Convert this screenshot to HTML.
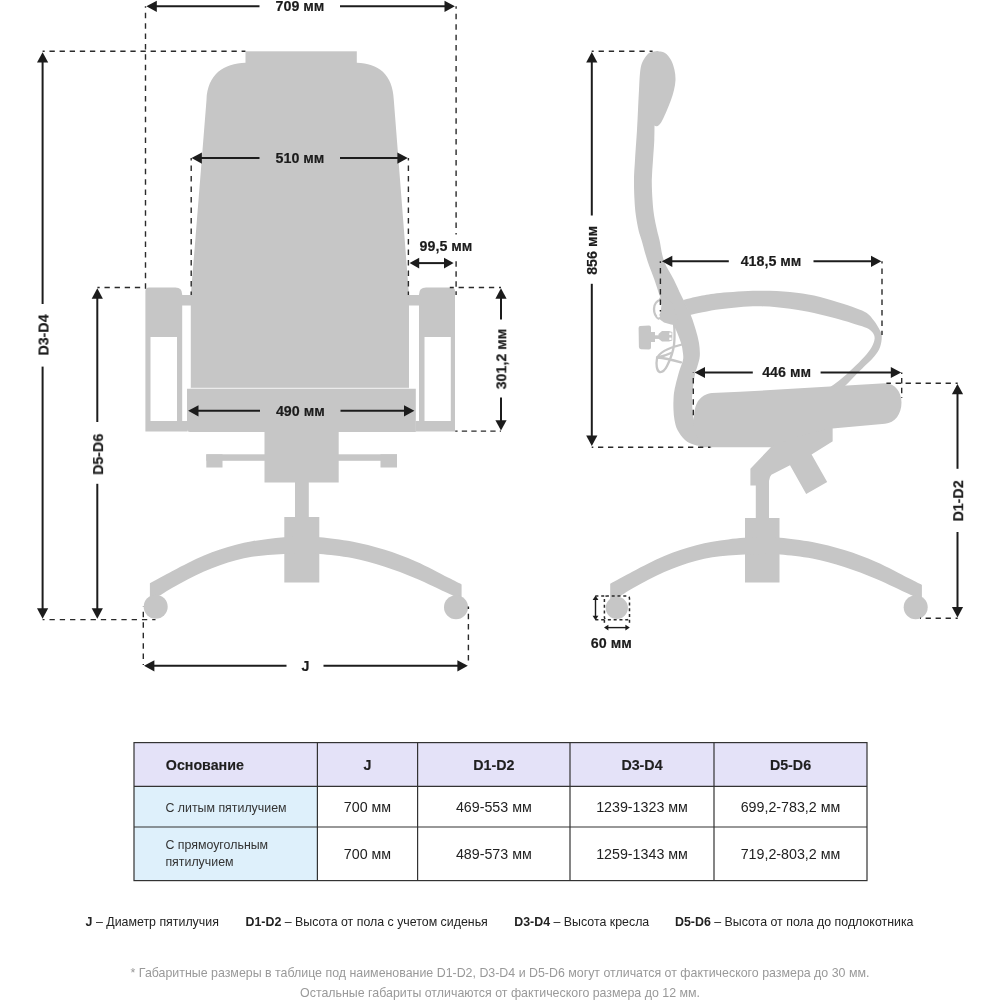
<!DOCTYPE html>
<html lang="ru">
<head>
<meta charset="utf-8">
<title>Габаритные размеры кресла</title>
<style>
html,body{margin:0;padding:0;background:#fff;}
body{width:1000px;height:1000px;overflow:hidden;font-family:"Liberation Sans",sans-serif;}
svg{display:block;}
text{font-family:"Liberation Sans",sans-serif;fill:#1c1c1c;}

.b{font-size:14.25px;font-weight:bold;stroke:#1c1c1c;stroke-width:0.18px;}
.br{font-size:14.25px;font-weight:bold;stroke:#1c1c1c;stroke-width:0.18px;}
.th{font-size:14.25px;font-weight:bold;fill:#1e1e2a;stroke:#1e1e2a;stroke-width:0.15px;}
.td{font-size:14.25px;fill:#222;}
.tl{font-size:12.38px;fill:#333;}
.lg{font-size:12.38px;fill:#222;}
.fn{font-size:12.4px;fill:#999;}
.d{stroke:#2a2a2a;stroke-width:1.4;fill:none;}
</style>
</head>
<body>
<svg width="1000" height="1000" viewBox="0 0 1000 1000">
<rect width="1000" height="1000" fill="#ffffff"/>
<g fill="#c6c6c6">
<rect x="245.5" y="51.3" width="111.3" height="13"/>
<path d="M245.5,62.8 C224,63.5 207.5,74 206.5,100 L194.5,250 L190.8,295 L190.8,388.5 L409,388.5 L409,295 L405.5,250 L393.8,100 C392.8,74 378,63.5 356.8,62.8 Z"/>
<path d="M187,388.8 H415.8 V432 H190 Q187,432 187,429 Z"/>
<path fill-rule="evenodd" d="M145.4,291 Q145.4,287.5 149,287.5 H175.5 Q182.2,287.5 182.2,294.5 V295 H191.5 V305.6 H182.2 V421 H187.5 V431.5 H145.4 Z M150.5,337 H177 V421 H150.5 Z"/>
<path fill-rule="evenodd" d="M455,291 Q455,287.5 451.4,287.5 H426 Q419,287.5 419,294.5 V295 H408 V305.6 H419 V421 H415.5 V431.4 H455 Z M424.5,337 H450.8 V421 H424.5 Z"/>
<rect x="264.5" y="431" width="74.2" height="51.5"/>
<rect x="206.3" y="454.3" width="59" height="6.5"/>
<rect x="206.3" y="454.3" width="16.2" height="13.2"/>
<rect x="338" y="454.3" width="59" height="6.5"/>
<rect x="380.5" y="454.3" width="16.5" height="13.2"/>
<rect x="295" y="482" width="13.8" height="36"/>
<rect x="284.3" y="517" width="35" height="65.5"/>
<path d="M149.90,583.20 C153.58,581.20 165.65,574.58 172.00,571.20 C178.35,567.82 182.67,565.52 188.00,562.90 C193.33,560.28 198.67,557.72 204.00,555.50 C209.33,553.28 214.67,551.38 220.00,549.60 C225.33,547.82 230.67,546.18 236.00,544.80 C241.33,543.42 246.67,542.28 252.00,541.30 C257.33,540.32 262.67,539.57 268.00,538.90 C273.33,538.23 278.38,537.70 284.00,537.30 C289.62,536.90 295.75,536.50 301.75,536.50 C307.75,536.50 311.62,536.45 320.00,537.30 C328.38,538.15 341.33,539.55 352.00,541.60 C362.67,543.65 373.33,546.27 384.00,549.60 C394.67,552.93 405.33,556.93 416.00,561.60 C426.67,566.27 440.40,573.80 448.00,577.60 C455.60,581.40 459.33,583.27 461.60,584.40 L461.60,600.40 L453.60,596.00 C452.67,595.55 454.27,596.23 448.00,593.30 C441.73,590.37 426.67,582.88 416.00,578.40 C405.33,573.92 394.67,569.80 384.00,566.40 C373.33,563.00 362.67,560.08 352.00,558.00 C341.33,555.92 328.38,554.67 320.00,553.90 C311.62,553.13 307.75,553.40 301.75,553.40 C295.75,553.40 289.62,553.65 284.00,553.90 C278.38,554.15 273.33,554.42 268.00,554.90 C262.67,555.38 257.33,555.90 252.00,556.80 C246.67,557.70 241.33,558.88 236.00,560.30 C230.67,561.72 225.33,563.43 220.00,565.30 C214.67,567.17 209.33,569.18 204.00,571.50 C198.67,573.82 193.33,576.45 188.00,579.20 C182.67,581.95 176.53,585.38 172.00,588.00 C167.47,590.62 162.67,593.75 160.80,594.90 L149.90,599.20 Z"/>
<circle cx="155.7" cy="606.7" r="12"/>
<circle cx="456" cy="607.2" r="12"/>
</g>
<line x1="191" y1="388.2" x2="409" y2="388.2" stroke="#f0f0f0" stroke-width="1.1"/>
<g fill="#c6c6c6">
<path d="M657.00,51.00 C658.33,51.33 662.67,51.50 665.00,53.00 C667.33,54.50 669.42,57.17 671.00,60.00 C672.58,62.83 673.75,66.67 674.50,70.00 C675.25,73.33 675.58,76.67 675.50,80.00 C675.42,83.33 674.75,86.67 674.00,90.00 C673.25,93.33 672.17,96.67 671.00,100.00 C669.83,103.33 668.33,106.83 667.00,110.00 C665.67,113.17 664.17,116.67 663.00,119.00 C661.83,121.33 661.00,122.78 660.00,124.00 C659.00,125.22 657.92,126.05 657.00,126.30 C656.08,126.55 654.92,125.63 654.50,125.50 C654.47,127.92 654.55,134.25 654.30,140.00 C654.05,145.75 653.42,153.33 653.00,160.00 C652.58,166.67 651.88,173.33 651.80,180.00 C651.72,186.67 652.13,194.17 652.50,200.00 C652.87,205.83 653.25,210.00 654.00,215.00 C654.75,220.00 656.08,225.83 657.00,230.00 C657.92,234.17 658.33,234.83 659.50,240.00 C660.67,245.17 661.58,254.33 664.00,261.00 C666.42,267.67 671.17,274.33 674.00,280.00 C676.83,285.67 678.92,290.67 681.00,295.00 C683.08,299.33 684.75,302.33 686.50,306.00 C688.25,309.67 689.95,313.00 691.50,317.00 C693.05,321.00 694.55,325.67 695.80,330.00 C697.05,334.33 698.33,338.67 699.00,343.00 C699.67,347.33 700.05,352.17 699.80,356.00 C699.55,359.83 698.30,363.00 697.50,366.00 C696.70,369.00 695.78,370.00 695.00,374.00 C694.22,378.00 693.30,385.67 692.80,390.00 C692.30,394.33 692.05,396.67 692.00,400.00 C691.95,403.33 692.25,406.50 692.50,410.00 C692.75,413.50 693.33,419.17 693.50,421.00 L712,447.5 L710,447.5 C707.50,447.08 699.17,446.25 695.00,445.00 C690.83,443.75 687.92,442.50 685.00,440.00 C682.08,437.50 679.25,433.33 677.50,430.00 C675.75,426.67 675.17,423.33 674.50,420.00 C673.83,416.67 673.67,413.33 673.50,410.00 C673.33,406.67 673.33,403.33 673.50,400.00 C673.67,396.67 673.58,394.67 674.50,390.00 C675.42,385.33 677.58,377.00 679.00,372.00 C680.42,367.00 682.37,363.33 683.00,360.00 C683.63,356.67 683.13,354.83 682.80,352.00 C682.47,349.17 682.13,346.67 681.00,343.00 C679.87,339.33 677.83,334.17 676.00,330.00 C674.17,325.83 672.00,322.17 670.00,318.00 C668.00,313.83 665.75,308.83 664.00,305.00 C662.25,301.17 661.08,299.17 659.50,295.00 C657.92,290.83 656.50,285.67 654.50,280.00 C652.50,274.33 649.67,267.67 647.50,261.00 C645.33,254.33 643.00,245.17 641.50,240.00 C640.00,234.83 639.45,234.17 638.50,230.00 C637.55,225.83 636.47,220.00 635.80,215.00 C635.13,210.00 634.80,205.83 634.50,200.00 C634.20,194.17 633.92,186.67 634.00,180.00 C634.08,173.33 634.50,168.33 635.00,160.00 C635.50,151.67 636.50,138.33 637.00,130.00 C637.50,121.67 637.67,116.67 638.00,110.00 C638.33,103.33 638.67,96.17 639.00,90.00 C639.33,83.83 639.50,77.50 640.00,73.00 C640.50,68.50 640.83,66.00 642.00,63.00 C643.17,60.00 645.58,56.75 647.00,55.00 C648.42,53.25 648.83,53.17 650.50,52.50 C652.17,51.83 655.92,51.25 657.00,51.00 Z"/>
<path d="M683.00,300.00 C685.83,299.33 693.83,297.17 700.00,296.00 C706.17,294.83 710.42,293.87 720.00,293.00 C729.58,292.13 745.83,290.97 757.50,290.80 C769.17,290.63 780.58,291.20 790.00,292.00 C799.42,292.80 806.00,293.90 814.00,295.60 C822.00,297.30 831.00,300.10 838.00,302.20 C845.00,304.30 851.20,306.40 856.00,308.20 C860.80,310.00 863.80,310.90 866.80,313.00 C869.80,315.10 871.80,317.90 874.00,320.80 C876.20,323.70 878.70,327.80 880.00,330.40 C881.30,333.00 881.80,333.60 881.80,336.40 C881.80,339.20 881.30,343.80 880.00,347.20 C878.70,350.60 877.00,353.20 874.00,356.80 C871.00,360.40 865.60,365.20 862.00,368.80 C858.40,372.40 855.23,375.53 852.40,378.40 C849.57,381.27 846.23,384.73 845.00,386.00 L829,388 C830.90,386.60 836.50,382.80 840.40,379.60 C844.30,376.40 848.40,372.60 852.40,368.80 C856.40,365.00 861.20,360.40 864.40,356.80 C867.60,353.20 869.90,350.20 871.60,347.20 C873.30,344.20 874.40,341.20 874.60,338.80 C874.80,336.40 874.10,334.60 872.80,332.80 C871.50,331.00 869.60,329.40 866.80,328.00 C864.00,326.60 860.80,325.90 856.00,324.40 C851.20,322.90 845.00,320.90 838.00,319.00 C831.00,317.10 822.00,314.70 814.00,313.00 C806.00,311.30 799.42,309.92 790.00,308.80 C780.58,307.68 769.17,306.22 757.50,306.30 C745.83,306.38 731.25,307.85 720.00,309.30 C708.75,310.75 695.00,314.05 690.00,315.00 Z"/>
<path d="M694,416 C694.5,407 697,399.5 704,395.5 C707,394 709.5,393.3 712,393 L740,391.8 L885,383.3 C895,383.3 901.5,392 901.5,402.5 C901.5,414 895,423 885,423.8 L832.4,428.6 L832.4,441.3 L812.5,447.3 L700,447.3 L692.8,421 Z"/>
<path d="M772,446 L750.4,468.8 L750.4,485.6 L755.8,485.6 L755.8,520 L769,520 L769,481 Q769.3,477 771.4,474.8 L790,465.2 L806.2,494 L827.2,482 L811.6,454.4 L832.4,441.6 L832.4,428 L800,436 Z"/>
<rect x="745" y="518" width="34.5" height="64.5"/>
<path d="M610.20,583.70 C613.88,581.70 625.95,575.08 632.30,571.70 C638.65,568.32 642.97,566.02 648.30,563.40 C653.63,560.78 658.97,558.22 664.30,556.00 C669.63,553.78 674.97,551.88 680.30,550.10 C685.63,548.32 690.97,546.68 696.30,545.30 C701.63,543.92 706.97,542.78 712.30,541.80 C717.63,540.82 722.97,540.07 728.30,539.40 C733.63,538.73 738.67,538.20 744.30,537.80 C749.92,537.40 756.05,537.00 762.05,537.00 C768.05,537.00 771.92,536.95 780.30,537.80 C788.67,538.65 801.63,540.05 812.30,542.10 C822.97,544.15 833.63,546.77 844.30,550.10 C854.97,553.43 865.63,557.43 876.30,562.10 C886.97,566.77 900.70,574.30 908.30,578.10 C915.90,581.90 919.63,583.77 921.90,584.90 L921.90,600.90 L913.90,596.50 C912.97,596.05 914.57,596.73 908.30,593.80 C902.03,590.87 886.97,583.38 876.30,578.90 C865.63,574.42 854.97,570.30 844.30,566.90 C833.63,563.50 822.97,560.58 812.30,558.50 C801.63,556.42 788.67,555.17 780.30,554.40 C771.92,553.63 768.05,553.90 762.05,553.90 C756.05,553.90 749.92,554.15 744.30,554.40 C738.67,554.65 733.63,554.92 728.30,555.40 C722.97,555.88 717.63,556.40 712.30,557.30 C706.97,558.20 701.63,559.38 696.30,560.80 C690.97,562.22 685.63,563.93 680.30,565.80 C674.97,567.67 669.63,569.68 664.30,572.00 C658.97,574.32 653.63,576.95 648.30,579.70 C642.97,582.45 636.83,585.88 632.30,588.50 C627.77,591.12 622.97,594.25 621.10,595.40 L610.20,599.70 Z"/>
<circle cx="616.8" cy="607.8" r="11.1"/>
<circle cx="915.7" cy="607.3" r="12"/>
</g>
<g fill="#c6c6c6" stroke="none">
<path d="M640.2,326 Q638.6,326.2 638.6,328 L638.9,347 Q639,349 641,349.2 L649,349.6 Q651,349.6 651,347.6 L651,342 L655,342 L655,332 L651,332 L651,327.4 Q651,325.4 649,325.4 Z"/>
<rect x="654" y="335.3" width="6" height="3.6"/>
<path d="M658.5,334 L662,331 L669,331 L672.3,332 L672.3,340.5 L669,341.6 L662,341.6 L658.5,338.8 Z"/>
<path d="M659,298 L661.5,305 L660.5,312 L658,318 L664,322.5 L671,324.5 L680,326 L672,303 L664,296 Z"/>
</g>
<g fill="none" stroke="#c6c6c6" stroke-width="2.3" stroke-linecap="round">
<path d="M661,299.5 C656,301 654,305 654,309 C654,313 655.5,316.5 658.5,318.5"/>
<path d="M674,323 C674.6,330 674.8,338 674,345 C673,353 670,360 667,366 C665,370 662,372.5 659.5,372 C656.5,370.5 656,364 657,358.5 C659,352 670,347.5 682,344.5"/>
<path d="M657,357.5 C665,358 673,360 681,362.3"/>
<path d="M657.5,357.3 C662,356.5 667,355 671,353"/>
</g>
<circle cx="658.6" cy="316.3" r="1.2" fill="#fff"/>
<rect x="669.3" y="332.6" width="2.2" height="2.4" fill="#fff"/>
<rect x="669.3" y="337.6" width="2.2" height="2.4" fill="#fff"/>
<line x1="145.5" y1="6.3" x2="145.5" y2="293" class="d" stroke-dasharray="5.5 4.90" stroke-dashoffset="3.95"/>
<line x1="456.1" y1="6.3" x2="456.1" y2="234.4" class="d" stroke-dasharray="5.5 4.94" stroke-dashoffset="2.94"/>
<line x1="456.1" y1="261.2" x2="456.1" y2="295" class="d" stroke-dasharray="5.5 4.50" stroke-dashoffset="0.00"/>
<line x1="42.6" y1="51.3" x2="245.4" y2="51.3" class="d" stroke-dasharray="5.3 4.81" stroke-dashoffset="3.21"/>
<line x1="191.2" y1="158.1" x2="191.2" y2="295" class="d" stroke-dasharray="5.5 5.00" stroke-dashoffset="3.20"/>
<line x1="408.4" y1="158.1" x2="408.4" y2="295" class="d" stroke-dasharray="5.5 5.00" stroke-dashoffset="3.10"/>
<line x1="97.4" y1="287.5" x2="145.5" y2="287.5" class="d" stroke-dasharray="5.3 4.82" stroke-dashoffset="3.02"/>
<line x1="501" y1="287.5" x2="449.8" y2="287.5" class="d" stroke-dasharray="5.3 4.80" stroke-dashoffset="3.30"/>
<line x1="501" y1="431.1" x2="455.2" y2="431.1" class="d" stroke-dasharray="5.3 4.20" stroke-dashoffset="4.10"/>
<line x1="42.6" y1="619.6" x2="155.5" y2="619.6" class="d" stroke-dasharray="5.3 4.97" stroke-dashoffset="3.37"/>
<line x1="143.3" y1="606.6" x2="143.3" y2="665" class="d" stroke-dasharray="5.5 4.95" stroke-dashoffset="5.25"/>
<line x1="468.4" y1="606.6" x2="468.4" y2="665" class="d" stroke-dasharray="5.5 4.80" stroke-dashoffset="3.10"/>
<line x1="591.7" y1="51.3" x2="652.6" y2="51.3" class="d" stroke-dasharray="5.3 4.90" stroke-dashoffset="3.30"/>
<line x1="591.7" y1="447.3" x2="710.5" y2="447.3" class="d" stroke-dasharray="5.3 4.70" stroke-dashoffset="3.70"/>
<line x1="660.4" y1="261.2" x2="660.4" y2="311.5" class="d" stroke-dasharray="5.5 5.00" stroke-dashoffset="3.70"/>
<line x1="882" y1="261.2" x2="882" y2="335" class="d" stroke-dasharray="5.5 4.90" stroke-dashoffset="3.20"/>
<line x1="693.3" y1="372.5" x2="693.3" y2="415.8" class="d" stroke-dasharray="5.5 5.10" stroke-dashoffset="5.10"/>
<line x1="901.7" y1="372.5" x2="901.7" y2="398" class="d" stroke-dasharray="5.5 4.10" stroke-dashoffset="4.00"/>
<line x1="957.7" y1="383.3" x2="886.4" y2="383.3" class="d" stroke-dasharray="5.3 4.70" stroke-dashoffset="3.20"/>
<line x1="957.7" y1="618.3" x2="920" y2="618.3" class="d" stroke-dasharray="5.3 4.70" stroke-dashoffset="3.20"/>
<g stroke="#2a2a2a" stroke-width="1.5" stroke-dasharray="3 2.8" fill="none">
<line x1="595.4" y1="595.9" x2="604.4" y2="595.9"/>
<line x1="595.4" y1="619.8" x2="604.4" y2="619.8"/>
<rect x="604.4" y="595.9" width="25.1" height="23.9" rx="2.5" stroke-dashoffset="1"/>
<line x1="604.4" y1="619.8" x2="604.4" y2="625"/>
<line x1="629.5" y1="619.8" x2="629.5" y2="625"/>
</g>
<polygon points="146.40,6.30 156.80,0.70 156.80,11.90" fill="#1c1c1c"/>
<polygon points="454.90,6.30 444.50,0.70 444.50,11.90" fill="#1c1c1c"/>
<line x1="155.8" y1="6.3" x2="259.5" y2="6.3" stroke="#1c1c1c" stroke-width="2"/>
<line x1="340" y1="6.3" x2="445.5" y2="6.3" stroke="#1c1c1c" stroke-width="2"/>
<polygon points="191.50,158.10 201.90,152.50 201.90,163.70" fill="#1c1c1c"/>
<polygon points="407.80,158.10 397.40,152.50 397.40,163.70" fill="#1c1c1c"/>
<line x1="200.9" y1="158.1" x2="259.5" y2="158.1" stroke="#1c1c1c" stroke-width="2"/>
<line x1="340" y1="158.1" x2="398.4" y2="158.1" stroke="#1c1c1c" stroke-width="2"/>
<polygon points="409.60,263.10 419.20,257.70 419.20,268.50" fill="#1c1c1c"/>
<polygon points="453.60,263.10 444.00,257.70 444.00,268.50" fill="#1c1c1c"/>
<line x1="418.2" y1="263.1" x2="445.0" y2="263.1" stroke="#1c1c1c" stroke-width="2"/>
<polygon points="188.10,410.80 198.50,405.20 198.50,416.40" fill="#1c1c1c"/>
<polygon points="414.40,410.80 404.00,405.20 404.00,416.40" fill="#1c1c1c"/>
<line x1="197.5" y1="410.8" x2="260" y2="410.8" stroke="#1c1c1c" stroke-width="2"/>
<line x1="340.5" y1="410.8" x2="405.0" y2="410.8" stroke="#1c1c1c" stroke-width="2"/>
<polygon points="144.00,665.80 154.40,660.20 154.40,671.40" fill="#1c1c1c"/>
<polygon points="467.80,665.80 457.40,660.20 457.40,671.40" fill="#1c1c1c"/>
<line x1="153.4" y1="665.8" x2="286.5" y2="665.8" stroke="#1c1c1c" stroke-width="2"/>
<line x1="323.5" y1="665.8" x2="458.4" y2="665.8" stroke="#1c1c1c" stroke-width="2"/>
<polygon points="42.60,52.20 37.00,62.60 48.20,62.60" fill="#1c1c1c"/>
<polygon points="42.60,618.70 37.00,608.30 48.20,608.30" fill="#1c1c1c"/>
<line x1="42.6" y1="61.6" x2="42.6" y2="304" stroke="#1c1c1c" stroke-width="2"/>
<line x1="42.6" y1="366.6" x2="42.6" y2="609.3" stroke="#1c1c1c" stroke-width="2"/>
<polygon points="97.30,288.30 91.70,298.70 102.90,298.70" fill="#1c1c1c"/>
<polygon points="97.30,618.70 91.70,608.30 102.90,608.30" fill="#1c1c1c"/>
<line x1="97.3" y1="297.7" x2="97.3" y2="422" stroke="#1c1c1c" stroke-width="2"/>
<line x1="97.3" y1="483.8" x2="97.3" y2="609.3" stroke="#1c1c1c" stroke-width="2"/>
<polygon points="501.00,288.30 495.40,298.70 506.60,298.70" fill="#1c1c1c"/>
<polygon points="501.00,430.60 495.40,420.20 506.60,420.20" fill="#1c1c1c"/>
<line x1="501" y1="297.7" x2="501" y2="319.5" stroke="#1c1c1c" stroke-width="2"/>
<line x1="501" y1="397.5" x2="501" y2="421.2" stroke="#1c1c1c" stroke-width="2"/>
<polygon points="591.80,52.10 586.20,62.50 597.40,62.50" fill="#1c1c1c"/>
<polygon points="591.80,445.90 586.20,435.50 597.40,435.50" fill="#1c1c1c"/>
<line x1="591.8" y1="61.5" x2="591.8" y2="215.5" stroke="#1c1c1c" stroke-width="2"/>
<line x1="591.8" y1="283.8" x2="591.8" y2="436.5" stroke="#1c1c1c" stroke-width="2"/>
<polygon points="957.50,383.90 951.90,394.30 963.10,394.30" fill="#1c1c1c"/>
<polygon points="957.50,617.40 951.90,607.00 963.10,607.00" fill="#1c1c1c"/>
<line x1="957.5" y1="393.3" x2="957.5" y2="468.8" stroke="#1c1c1c" stroke-width="2"/>
<line x1="957.5" y1="532" x2="957.5" y2="608.0" stroke="#1c1c1c" stroke-width="2"/>
<polygon points="661.90,261.30 672.30,255.70 672.30,266.90" fill="#1c1c1c"/>
<polygon points="881.40,261.30 871.00,255.70 871.00,266.90" fill="#1c1c1c"/>
<line x1="671.3" y1="261.3" x2="728.8" y2="261.3" stroke="#1c1c1c" stroke-width="2"/>
<line x1="813.5" y1="261.3" x2="872.0" y2="261.3" stroke="#1c1c1c" stroke-width="2"/>
<polygon points="694.60,372.50 705.00,366.90 705.00,378.10" fill="#1c1c1c"/>
<polygon points="901.20,372.50 890.80,366.90 890.80,378.10" fill="#1c1c1c"/>
<line x1="704.0" y1="372.5" x2="752.8" y2="372.5" stroke="#1c1c1c" stroke-width="2"/>
<line x1="820.6" y1="372.5" x2="891.8" y2="372.5" stroke="#1c1c1c" stroke-width="2"/>
<polygon points="595.50,595.60 592.60,600.00 598.40,600.00" fill="#1c1c1c"/>
<polygon points="595.50,620.20 592.60,615.80 598.40,615.80" fill="#1c1c1c"/>
<line x1="595.5" y1="599.0" x2="595.5" y2="616.8" stroke="#1c1c1c" stroke-width="1.4"/>
<polygon points="604.00,627.60 608.40,624.70 608.40,630.50" fill="#1c1c1c"/>
<polygon points="629.80,627.60 625.40,624.70 625.40,630.50" fill="#1c1c1c"/>
<line x1="607.4" y1="627.6" x2="626.4" y2="627.6" stroke="#1c1c1c" stroke-width="1.4"/>
<rect x="134" y="742.6" width="733" height="43.7" fill="#e4e2f8"/>
<rect x="134" y="786.3" width="183.4" height="94.3" fill="#def0fb"/>
<g stroke="#333" stroke-width="1.2" fill="none">
<rect x="134" y="742.6" width="733" height="138"/>
<line x1="134" y1="786.3" x2="867" y2="786.3"/>
<line x1="134" y1="827" x2="867" y2="827"/>
<line x1="317.4" y1="742.6" x2="317.4" y2="880.6"/>
<line x1="417.6" y1="742.6" x2="417.6" y2="880.6"/>
<line x1="570" y1="742.6" x2="570" y2="880.6"/>
<line x1="714" y1="742.6" x2="714" y2="880.6"/>
</g>
<g style="filter:grayscale(1)">
<text transform="translate(300 11.3) scale(1.0 1)" text-anchor="middle" class="b">709 мм</text>
<text transform="translate(300 162.6) scale(1.0 1)" text-anchor="middle" class="b">510 мм</text>
<text transform="translate(446 250.8) scale(1.0 1)" text-anchor="middle" class="b">99,5 мм</text>
<text transform="translate(300.3 415.6) scale(1.0 1)" text-anchor="middle" class="b">490 мм</text>
<text transform="translate(305.5 670.9)" text-anchor="middle" class="b" >J</text>
<text transform="translate(771 266.3) scale(1.0 1)" text-anchor="middle" class="b">418,5 мм</text>
<text transform="translate(786.6 377.1) scale(1.0 1)" text-anchor="middle" class="b">446 мм</text>
<text transform="translate(611.3 648) scale(1.0 1)" text-anchor="middle" class="b">60 мм</text>
<text transform="translate(48.5 335) rotate(-90) scale(1 1)" text-anchor="middle" class="br">D3-D4</text>
<text transform="translate(103.1 454.4) rotate(-90) scale(1 1)" text-anchor="middle" class="br">D5-D6</text>
<text transform="translate(506.3 359.1) rotate(-90) scale(1 1)" text-anchor="middle" class="br">301,2 мм</text>
<text transform="translate(597.3 250.4) rotate(-90) scale(1 1)" text-anchor="middle" class="br">856 мм</text>
<text transform="translate(963.2 500.9) rotate(-90) scale(1 1)" text-anchor="middle" class="br">D1-D2</text>
<text transform="translate(165.8 770) scale(1.0 1)" text-anchor="start" class="th">Основание</text>
<text transform="translate(367.5 770) scale(1.0 1)" text-anchor="middle" class="th">J</text>
<text transform="translate(493.8 770) scale(1.0 1)" text-anchor="middle" class="th">D1-D2</text>
<text transform="translate(642 770) scale(1.0 1)" text-anchor="middle" class="th">D3-D4</text>
<text transform="translate(790.5 770) scale(1.0 1)" text-anchor="middle" class="th">D5-D6</text>
<text transform="translate(165.4 812.1) scale(1.0 1)" text-anchor="start" class="tl">С литым пятилучием</text>
<text transform="translate(165.4 849) scale(1.0 1)" text-anchor="start" class="tl">С прямоугольным</text>
<text transform="translate(165.4 866.4) scale(1.0 1)" text-anchor="start" class="tl">пятилучием</text>
<text transform="translate(367.5 812.1) scale(1.0 1)" text-anchor="middle" class="td">700 мм</text>
<text transform="translate(367.5 858.6) scale(1.0 1)" text-anchor="middle" class="td">700 мм</text>
<text transform="translate(493.8 812.1) scale(1.0 1)" text-anchor="middle" class="td">469-553 мм</text>
<text transform="translate(493.8 858.6) scale(1.0 1)" text-anchor="middle" class="td">489-573 мм</text>
<text transform="translate(642 812.1) scale(1.0 1)" text-anchor="middle" class="td">1239-1323 мм</text>
<text transform="translate(642 858.6) scale(1.0 1)" text-anchor="middle" class="td">1259-1343 мм</text>
<text transform="translate(790.5 812.1) scale(1.0 1)" text-anchor="middle" class="td">699,2-783,2 мм</text>
<text transform="translate(790.5 858.6) scale(1.0 1)" text-anchor="middle" class="td">719,2-803,2 мм</text>
<text transform="translate(85.6 926.4) scale(1.0 1)" class="lg"><tspan font-weight="bold">J</tspan> – Диаметр пятилучия</text>
<text transform="translate(245.5 926.4) scale(1.0 1)" class="lg"><tspan font-weight="bold">D1-D2</tspan> – Высота от пола с учетом сиденья</text>
<text transform="translate(514.3 926.4) scale(1.0 1)" class="lg"><tspan font-weight="bold">D3-D4</tspan> – Высота кресла</text>
<text transform="translate(675 926.4) scale(1.0 1)" class="lg"><tspan font-weight="bold">D5-D6</tspan> – Высота от пола до подлокотника</text>
<text transform="translate(500 976.5) scale(1.0 1)" text-anchor="middle" class="fn">* Габаритные размеры в таблице под наименование D1-D2, D3-D4 и D5-D6 могут отличатся от фактического размера до 30 мм.</text>
<text transform="translate(500 996.6) scale(1.0 1)" text-anchor="middle" class="fn">Остальные габариты отличаются от фактического размера до 12 мм.</text>
</g>
</svg>
</body>
</html>
